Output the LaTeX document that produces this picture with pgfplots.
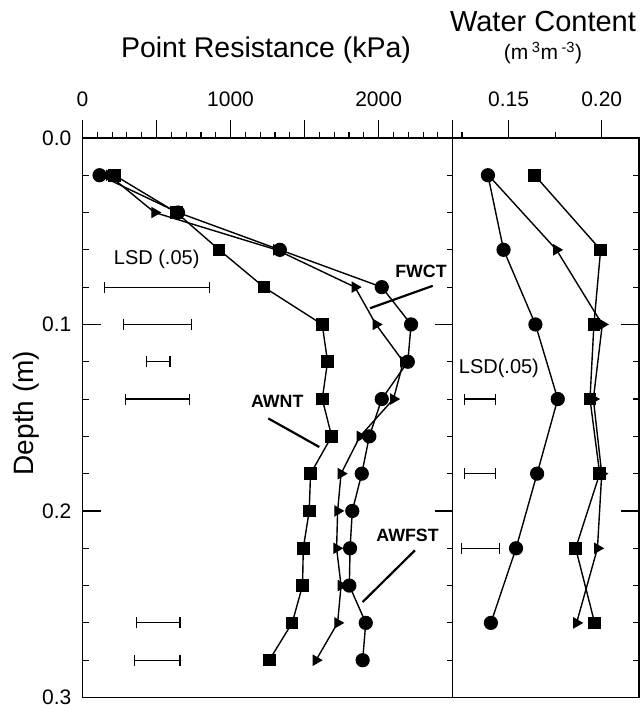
\documentclass[border=0pt]{standalone}
\usepackage{pgfplots}
\pgfplotsset{compat=1.18}
\usepackage{pgfplotstable}
\usepackage{fontspec}
\setmainfont{Liberation Sans}
\usetikzlibrary{arrows.meta}

% Point resistance (kPa) by depth (m)
\pgfplotstableread{
depth  sq    ci    tr
0.02   216   115   180
0.04   634   645   487
0.06   923   1333  1310
0.08   1225  2021  1840
0.10   1619  2219  1982
0.12   1655  2197  2167
0.14   1619  2021  2100
0.16   1683  1937  1874
0.18   1540  1886  1746
0.20   1531  1822  1723
0.22   1491  1807  1716
0.24   1486  1802  1746
0.26   1416  1913  1723
0.28   1261  1892  1577
}\resist

% Volumetric water content (m3 m-3) by depth (m)
\pgfplotstableread{
depth  sq     ci     tr
0.02   0.164  0.1389 0.1392
0.06   0.1994 0.1473 0.1757
0.10   0.1958 0.1644 0.2003
0.14   0.1937 0.1764 0.1955
0.18   0.1989 0.1653 0.2000
0.22   0.1860 0.1540 0.1977
0.26   0.1962 0.1405 0.1865
}\water

\tikzset{
  tag/.style={font=\fontsize{17.8}{17.8}\selectfont\bfseries},
  leader/.style={black, line width=2.2pt},
}

\begin{document}
\begin{tikzpicture}
\pgfplotsset{
  profile/.style={
    scale only axis, height=559.6pt,
    ymin=0, ymax=0.3, y dir=reverse,
    anchor=origin,
    axis line style={line width=1.4pt},
    major tick length=18pt, minor tick length=6pt,
    every tick/.style={black, line width=1.1pt},
    every minor tick/.style={black, line width=1.1pt},
    /pgf/number format/assume math mode=true,
    tick label style={font=\fontsize{21}{21}\selectfont},
    xtick pos=upper, xticklabel pos=upper,
    xtick align=outside, ytick align=inside,
    xticklabel style={anchor=base, inner sep=0pt, yshift=13.5pt},
    ytick={0,0.1,0.2,0.3},
    minor ytick={0.02,0.04,0.06,0.08,0.12,0.14,0.16,0.18,0.22,0.24,0.26,0.28},
    clip=false,
  },
  series/.style={black, line width=1.4pt, mark options={solid}},
  ci/.style={series, mark=*, mark size=6.4pt},
  sq/.style={series, mark=square*, mark size=5.6pt},
  tr/.style={series, mark=triangle*, mark size=5.3pt, mark options={rotate=-90}},
  lsd/.style={black, line width=1.2pt, mark=none, {Bar[width=11pt]}-{Bar[width=11pt]}},
}

% Left panel: point resistance; the anchor is its upper left corner
\begin{axis}[profile,
  at={(82.5pt,567.1pt)}, width=370.2pt,
  xmin=0, xmax=2500,
  xtick={0,500,1000,1500,2000,2500},
  xticklabels={0,,1000,,2000,},
  minor x tick num=4,
  ytick pos=both,
  yticklabels={0.0,0.1,0.2,0.3},
  yticklabel style={anchor=east, inner sep=0pt, xshift=-11pt},
]
\addplot[sq] table[x=sq, y=depth] {\resist};
\addplot[ci] table[x=ci, y=depth] {\resist};
\addplot[tr] table[x=tr, y=depth] {\resist};

% LSD (.05) bars
\addplot[lsd] coordinates {(144,0.08) (864,0.08)};
\addplot[lsd] coordinates {(273,0.10) (740,0.10)};
\addplot[lsd] coordinates {(426,0.12) (595,0.12)};
\addplot[lsd] coordinates {(284,0.14) (724,0.14)};
\addplot[lsd] coordinates {(363,0.26) (663,0.26)};
\addplot[lsd] coordinates {(345,0.28) (663,0.28)};

\node[font=\fontsize{20}{20}\selectfont] at (axis cs:501,0.0651) {LSD (.05)};
\node[tag] at (axis cs:2286,0.0713) {FWCT};
\node[tag] at (axis cs:1315,0.1415) {AWNT};
\node[tag] at (axis cs:2195,0.2130) {AWFST};
\draw[leader] (axis cs:2365,0.0793) -- (axis cs:1942,0.0913);
\draw[leader] (axis cs:1255,0.1504) -- (axis cs:1599,0.1657);
\draw[leader] (axis cs:2245,0.2211) -- (axis cs:1892,0.2488);
\end{axis}

% Right panel: water content, sharing the left panel's right edge
\begin{axis}[profile,
  at={(452.7pt,567.1pt)}, width=186.3pt,
  xmin=0.12, xmax=0.22,
  xtick={0.15,0.20},
  xticklabels={0.15,0.20},
  minor xtick={0.125,0.175},
  ytick pos=right,
  yticklabels={},
]
\addplot[ci] table[x=ci, y=depth] {\water};
\addplot[sq] table[x=sq, y=depth] {\water};
\addplot[tr] table[x=tr, y=depth] {\water};

\addplot[lsd] coordinates {(0.1261,0.14) (0.1432,0.14)};
\addplot[lsd] coordinates {(0.1261,0.18) (0.1435,0.18)};
\addplot[lsd] coordinates {(0.1244,0.22) (0.1454,0.22)};

\node[font=\fontsize{20}{20}\selectfont] at (axis cs:0.1448,0.1236) {LSD(.05)};
\end{axis}

% Titles
\node[font=\fontsize{28.5}{28.5}\selectfont] at (266pt,655pt) {Point Resistance (kPa)};
\node[font=\fontsize{29}{29}\selectfont] at (543pt,683pt) {Water Content};
\node[font=\fontsize{21}{21}\selectfont] at (543pt,652pt) {(m\,\textsuperscript{3}m\,\textsuperscript{-3})};
\node[font=\fontsize{28}{28}\selectfont, rotate=90] at (26.7pt,292pt) {Depth (m)};

\pgfresetboundingbox
\useasboundingbox (0pt,0pt) rectangle (642pt,705pt);
\end{tikzpicture}
\end{document}
